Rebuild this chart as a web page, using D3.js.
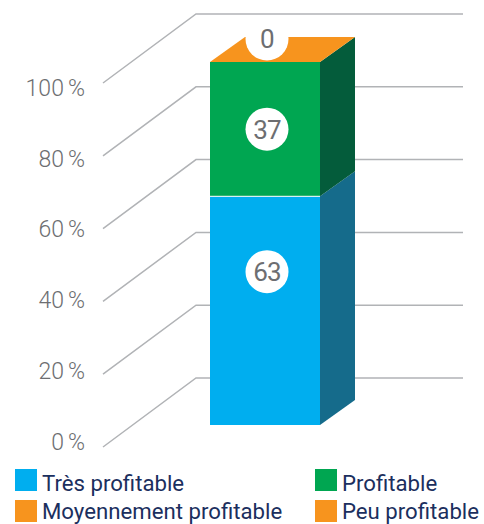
<!DOCTYPE html>
<html>
<head>
<meta charset="utf-8">
<script src="https://cdnjs.cloudflare.com/ajax/libs/d3/7.8.5/d3.min.js"></script>
<style>
  html, body { margin: 0; padding: 0; background: #fff; }
  svg { display: block; }
  text { font-family: Roboto, sans-serif; }
  .tick text { fill: #6d6e71; font-size: 23px; font-weight: 300; word-spacing: -1.5px; }
  .grid { fill: none; stroke: #b1b3b6; stroke-width: 1.5px; }
  .val { fill: #6d6e71; font-size: 26px; text-anchor: middle; letter-spacing: -0.8px; }
  .leg { fill: #1b2f5e; font-size: 22.2px; font-weight: 400; }
</style>
</head>
<body>
<svg width="484" height="524"></svg>
<script>
var categories = ["Très profitable", "Profitable", "Moyennement profitable", "Peu profitable"];
var values = [63, 37, 0, 0];
var colors = ["#00aeef", "#00a651", "#f7941e", "#f7941e"];
var sideColors = ["#156b8b", "#045c3b", "#f7941e", "#f7941e"];
var ticks = [0, 20, 40, 60, 80, 100];

var svg = d3.select("svg");

// front face of the bar
var y = d3.scaleLinear().domain([0, 100]).range([425, 62]);
var barLeft = 210, barRight = 320;
var depthX = 35, depthY = -25;

// gridline start (front) and back wall
var yFront = d3.scaleLinear().domain([0, 100]).range([447, 83]);
var yBack = d3.scaleLinear().domain([0, 100]).range([378, 14]);
var yTick = d3.scaleLinear().domain([0, 100]).range([442, 88]);

var line = d3.line();

svg.append("g").selectAll("path")
    .data(ticks)
  .enter().append("path")
    .attr("class", "grid")
    .attr("d", function(d) {
      return line([[103, yFront(d)], [196, yBack(d)], [463, yBack(d)]]);
    });

var axis = d3.axisLeft(yTick)
    .tickValues(ticks)
    .tickSize(0)
    .tickPadding(0)
    .tickFormat(function(d) { return d + " %"; });

svg.append("g")
    .attr("transform", "translate(85,0)")
    .call(axis)
    .call(function(g) { g.select(".domain").remove(); });

// stack the series
var stack = [];
var sum = 0;
values.forEach(function(v, i) {
  stack.push({ i: i, v: v, y0: sum, y1: sum + v });
  sum += v;
});

var bars = stack.filter(function(d) { return d.v > 0; });

// right side
svg.append("g").selectAll("path")
    .data(bars)
  .enter().append("path")
    .attr("fill", function(d) { return sideColors[d.i]; })
    .attr("d", function(d) {
      return line([
        [barRight, y(d.y0)],
        [barRight + depthX, y(d.y0) + depthY],
        [barRight + depthX, y(d.y1) + depthY],
        [barRight, y(d.y1)]
      ]) + "Z";
    });

// front
svg.append("g").selectAll("rect")
    .data(bars)
  .enter().append("rect")
    .attr("x", barLeft)
    .attr("width", barRight - barLeft)
    .attr("y", function(d) { return y(d.y1); })
    .attr("height", function(d) { return y(d.y0) - y(d.y1); })
    .attr("fill", function(d) { return colors[d.i]; });

// thin white seam between the two front segments
svg.append("line")
    .attr("x1", barLeft).attr("x2", barRight)
    .attr("y1", y(values[0])).attr("y2", y(values[0]))
    .attr("stroke", "#fff").attr("stroke-width", 1);

// top
svg.append("path")
    .attr("fill", colors[3])
    .attr("d", line([
      [barLeft, y(100)],
      [barLeft + depthX, y(100) + depthY],
      [barRight + depthX, y(100) + depthY],
      [barRight, y(100)]
    ]) + "Z");

// value bubbles, only three of them in the picture
var bubbles = [
  { v: values[0], at: (y(0) + y(values[0])) / 2 - 39 },
  { v: values[1], at: (y(values[0]) + y(100)) / 2 },
  { v: values[2], at: y(100) - 23 }
];

var bub = svg.append("g").selectAll("g")
    .data(bubbles)
  .enter().append("g")
    .attr("transform", function(d) { return "translate(267," + d.at + ")"; });

bub.append("circle").attr("r", 21.5).attr("fill", "#fff");
bub.append("text").attr("class", "val").attr("dy", "0.36em")
    .text(function(d) { return d.v; });

// legend
var legX = d3.scaleOrdinal().domain([0, 1]).range([15, 315]);
var legY = d3.scaleOrdinal().domain([0, 1]).range([469, 500]);
// second row sits a little high so the descenders stay inside the window
var legBase = [22, 19];

var leg = svg.append("g").selectAll("g")
    .data(categories)
  .enter().append("g")
    .attr("transform", function(d, i) {
      return "translate(" + legX(i % 2) + "," + legY(Math.floor(i / 2)) + ")";
    });

leg.append("rect")
    .attr("width", 22).attr("height", 22)
    .attr("fill", function(d, i) { return colors[i]; });

leg.append("text")
    .attr("class", "leg")
    .attr("x", 27)
    .attr("y", function(d, i) { return legBase[Math.floor(i / 2)]; })
    .text(function(d) { return d; });
</script>
</body>
</html>
